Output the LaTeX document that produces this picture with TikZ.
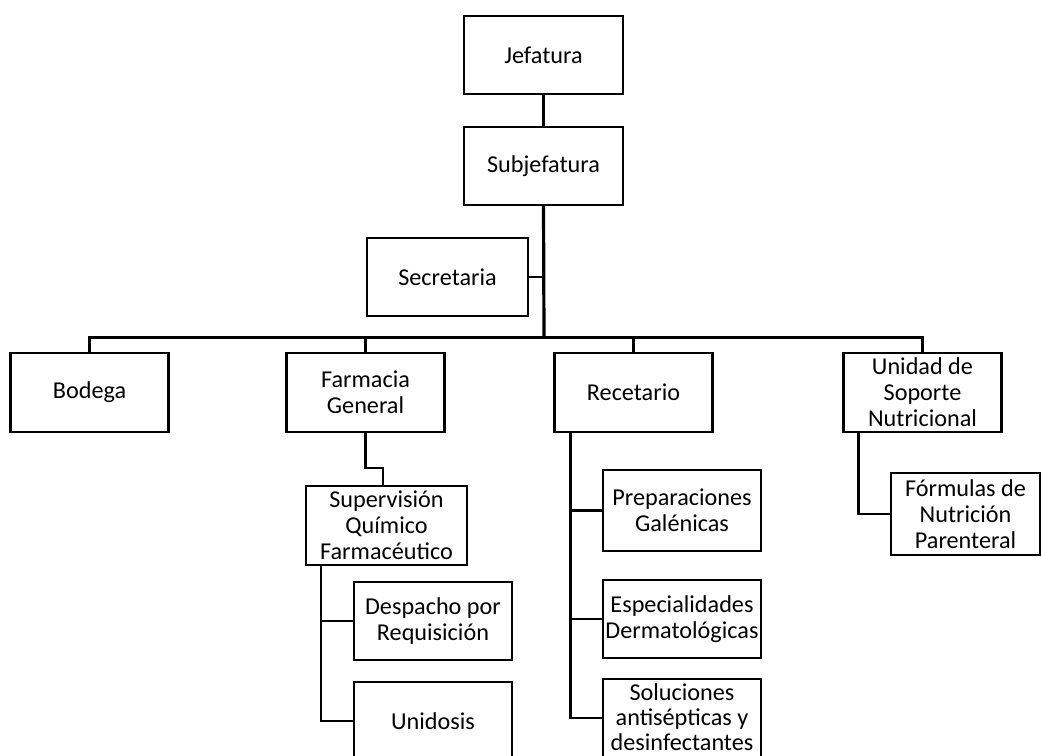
\documentclass[tikz,border=0pt]{standalone}
\usepackage{fontspec}
\setmainfont{Carlito}
\begin{document}
\begin{tikzpicture}[x=1pt,y=-1pt,
  labeltext/.style={align=center,inner sep=0pt,
    font=\fontsize{24.2}{26}\selectfont},
  unit/.style={labeltext,draw=black,line width=2.2pt,rectangle,
    minimum width=158pt,minimum height=79pt},
  link/.style={draw=black,line width=2.2pt},
  trunk/.style={draw=black,line width=3.2pt}]
\useasboundingbox (0,0) rectangle (1041,755);
\clip (0,0) rectangle (1041,755);

% top of the hierarchy
\node[unit,minimum width=159pt,minimum height=78pt] (jef) at (543.5,55) {Jefatura};
\node[unit,minimum width=159pt,minimum height=78pt] (subj) at (543.5,166) {Subjefatura};
\node[unit,minimum width=161pt,minimum height=78pt] (sec) at (447.5,277) {Secretaria};

% main units
\node[unit] (bod) at (89.5,392.5) {Bodega};
\node[unit] (farm) at (365.5,392.5) {Farmacia\\General};
\node[unit] (rec) at (633.5,392.5) {Recetario};
\node[unit] (unid) at (922.5,392.5) {Unidad de\\Soporte\\Nutricional};

% Farmacia General branch
\node[unit,minimum width=161pt] (sup) at (386.5,525.5) {Supervisión\\Químico\\Farmacéutico};
\node[unit,minimum height=78pt] (desp) at (433,621) {Despacho por\\Requisición};
\node[unit,minimum height=78pt] (unido) at (433,721) {Unidosis};

% Recetario branch
\node[unit,minimum height=81pt] (prep) at (682,510.5) {Preparaciones\\Galénicas};
\node[unit,minimum height=78pt] (esp) at (682,619) {Especialidades\\Dermatológicas};
\node[unit,minimum height=78pt] (sol) at (682,718) {};
\node[labeltext] (soltxt) at (682,717) {Soluciones\\[-1pt]antisépticas y\\[-1pt]desinfectantes};

% Unidad de Soporte Nutricional branch
\node[unit,minimum width=149pt,minimum height=82pt] (form) at (965.5,514) {Fórmulas de\\Nutrición\\Parenteral};

% connectors
\coordinate (bus) at (544,337.5);
\draw[link] (jef.south) -- (subj.north);
\draw[trunk] (subj.south) -- ([yshift=1.5pt]bus);
\draw[link] (sec.east) -- (sec.east -| bus);
\draw[link] (bod.north) -- (bod.north |- bus) -- (unid.north |- bus) -- (unid.north);
\draw[link] (farm.north) -- (farm.north |- bus);
\draw[link] (rec.north) -- (rec.north |- bus);

\draw[link] (farm.south) -- ++(0,35) -| ([xshift=-3.5pt]sup.north);

\draw[link] (sup.south west) ++(16,0) |- (unido.west);
\draw[link] (sup.south west) ++(16,0) |- (desp.west);

\draw[link] (rec.south west) ++(17,0) |- (sol.west);
\draw[link] (rec.south west) ++(17,0) |- (esp.west);
\draw[link] (rec.south west) ++(17,0) |- (prep.west);

\draw[link] (unid.south west) ++(16,0) |- (form.west);
\end{tikzpicture}
\end{document}
